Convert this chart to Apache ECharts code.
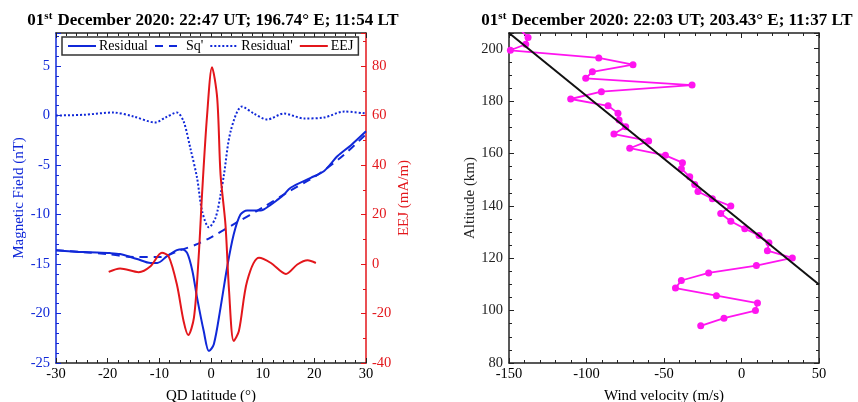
<!DOCTYPE html>
<html>
<head>
<meta charset="utf-8">
<script src="https://cdn.jsdelivr.net/npm/echarts@6/dist/echarts.min.js"></script>
<style>html,body{margin:0;padding:0;background:#fff}#c{width:858px;height:402px}</style>
</head>
<body>
<div id="c"></div>
<script>
// ---- Left panel data ----
const residualLat = [-30,-24.7,-19.5,-17.6,-14.3,-11.7,-10.4,-8.5,-6.6,-5.6,-4.6,-3.6,-2.7,-1.4,-0.4,0.55,1.85,3.1,4.4,5.7,7.0,9.6,11.6,12.9,14.1,15.4,19.3,21.9,24.5,27.1,30];
const residualVal = [-13.6,-13.8,-13.9,-14.0,-14.5,-14.9,-14.9,-14.2,-13.6,-13.5,-13.9,-15.7,-18.4,-21.8,-23.8,-23.1,-19.4,-15.4,-12.0,-10.0,-9.6,-9.6,-9.0,-8.5,-8.0,-7.3,-6.3,-5.6,-4.1,-3.0,-1.6];
const sqLat = [-30,-25,-20,-15,-10,-5.9,-2.7,0,5,10,15,20,25,30];
const sqVal = [-13.6,-13.8,-14.0,-14.3,-14.3,-13.6,-13.0,-12.3,-10.8,-9.3,-7.7,-6.2,-4.3,-1.9];
const residual2Lat = [-30,-24.7,-18.9,-15,-10.8,-8.8,-6.6,-5.3,-4.0,-2.7,-1.7,-0.4,0.9,1.85,2.5,3.8,6.0,8.3,10.9,14.1,18.0,21.9,25.8,30];
const residual2Val = [0,0.07,0.3,-0.1,-0.7,-0.2,0.3,-0.6,-3.3,-6.3,-9.7,-11.3,-10.3,-8.0,-6.0,-1.6,0.9,0.2,-0.4,0.2,-0.3,-0.2,0.4,0.2];
const eejLat = [-19.8,-17.6,-14.0,-11.7,-9.5,-8.2,-6.6,-5.3,-4.4,-3.3,-2.4,-1.7,-0.75,0.2,1.2,1.85,2.8,3.5,4.4,5.4,7.0,9.3,11.6,14.5,16.7,18.7,20.3];
const eejVal = [-3.2,-1.8,-3.3,-0.9,4.5,3.1,-8.3,-23.1,-28.7,-21.7,2.5,29.4,60.3,79.5,67,36.1,15.9,-11,-31.1,-27.1,-6.9,2.5,0.4,-4.0,-0.2,1.5,0.4];
// ---- Right panel data ----
const windVel = [-144,-137.7,-139.2,-149.1,-92.1,-70.0,-96.2,-100.5,-31.9,-90.4,-110.2,-86.1,-79.7,-79.0,-74.7,-82.3,-59.9,-72.1,-49.1,-38.1,-38.8,-33.4,-30.2,-28.1,-18.8,-6.9,-13.4,-6.9,2.1,11.3,17.7,16.7,32.8,9.6,-21.2,-38.8,-42.6,-16.2,10.3,9.0,-11.3,-26.3];
const windAlt = [208,204.3,201.7,199.4,196.5,193.9,191.2,188.7,186.1,183.6,180.8,178.2,175.4,172.8,170.2,167.4,164.8,162.0,159.3,156.5,154.2,151.1,148.2,145.5,142.7,139.9,137.1,134.1,131.3,128.7,125.9,122.9,120.1,117.2,114.4,111.5,108.6,105.7,102.9,100.0,97.1,94.2];
const fitVel = [-150, 50];
const fitAlt = [206, 110];
// ---- Tick / label texts ----
const titleLeft = '01{sup|st} December 2020: 22:47 UT; 196.74° E; 11:54 LT';
const titleRight = '01{sup|st} December 2020: 22:03 UT; 203.43° E; 11:37 LT';
const legendNames = ['Residual', "Sq'", "Residual'", 'EEJ'];

const zip = (a, b) => a.map((v, i) => [v, b[i]]);
const F = 'Liberation Serif';
const BLUE = '#1028d8', RED = '#e3161b', MAG = '#ff14f0', BLK = '#222';

function xAx(gi, pos, min, max, iv, labels, name) {
  return {
    gridIndex: gi, type: 'value', position: pos, min, max, interval: iv,
    name: name || '', nameLocation: 'middle', nameGap: 26,
    nameTextStyle: {fontFamily: F, fontSize: 15, color: '#000'},
    axisLine: {show: true, onZero: false, lineStyle: {color: BLK, width: 1.5}},
    axisTick: {show: true, inside: true, length: 5, lineStyle: {color: BLK}},
    minorTick: {show: true, splitNumber: 5, length: 3, lineStyle: {color: BLK}},
    axisLabel: {show: labels, fontFamily: F, fontSize: 14.5, color: '#000', margin: 4},
    splitLine: {show: false}
  };
}
function yAx(gi, pos, min, max, iv, split, color, labels, name, gap) {
  return {
    gridIndex: gi, type: 'value', position: pos, min, max, interval: iv,
    name: name || '', nameLocation: 'middle', nameGap: gap || 30, nameRotate: 90,
    nameTextStyle: {fontFamily: F, fontSize: 15, color},
    axisLine: {show: true, onZero: false, lineStyle: {color, width: 1.5}},
    axisTick: {show: true, inside: true, length: 5, lineStyle: {color}},
    minorTick: {show: true, splitNumber: split, length: 3, lineStyle: {color}},
    axisLabel: {show: labels, fontFamily: F, fontSize: 14.5, color, margin: 6, showMaxLabel: false},
    splitLine: {show: false}
  };
}

const supStyle = {fontFamily: F, fontSize: 11, fontWeight: 'bold', color: '#000', verticalAlign: 'top', padding: [0, 1, 9, 0]};
const chart = echarts.init(document.getElementById('c'), null, {renderer: 'canvas'});
chart.setOption({
  backgroundColor: '#fff',
  animation: false,
  title: [
    {text: titleLeft, left: 208, top: 6, textAlign: 'center',
     textStyle: {fontFamily: F, fontSize: 17, fontWeight: 'bold', color: '#000', rich: {sup: supStyle}}},
    {text: titleRight, left: 662, top: 6, textAlign: 'center',
     textStyle: {fontFamily: F, fontSize: 17, fontWeight: 'bold', color: '#000', rich: {sup: supStyle}}}
  ],
  legend: {
    data: legendNames, left: 62, top: 37, orient: 'horizontal',
    backgroundColor: '#fff', borderColor: '#333', borderWidth: 1.5, borderRadius: 0,
    padding: [2, 5], itemGap: 6, itemWidth: 28, itemHeight: 10,
    itemStyle: {opacity: 0},
    textStyle: {fontFamily: F, fontSize: 14, color: '#000', padding: [0, 0, 0, -2]}
  },
  grid: [
    {left: 56, top: 33, width: 310, height: 330, outerBoundsMode: 'none', containLabel: false},
    {left: 509, top: 33, width: 310, height: 330, outerBoundsMode: 'none', containLabel: false}
  ],
  xAxis: [
    xAx(0, 'bottom', -30, 30, 10, true, 'QD latitude (°)'),
    xAx(0, 'top', -30, 30, 10, false),
    xAx(1, 'bottom', -150, 50, 50, true, 'Wind velocity (m/s)'),
    xAx(1, 'top', -150, 50, 50, false)
  ],
  yAxis: [
    yAx(0, 'left', -25, 25/3, 5, 5, BLUE, true, 'Magnetic Field (nT)', 28),
    yAx(0, 'right', -40, 280/3, 20, 2, RED, true, 'EEJ (mA/m)', 31),
    yAx(1, 'left', 80, 206, 20, 4, BLK, true, 'Altitude (km)', 31),
    yAx(1, 'right', 80, 206, 20, 4, BLK, false)
  ],
  series: [
    {name: 'Residual', type: 'line', xAxisIndex: 0, yAxisIndex: 0, data: zip(residualLat, residualVal),
     showSymbol: false, symbol: 'none', smooth: 0.3, lineStyle: {color: BLUE, width: 2}, itemStyle: {color: BLUE}, z: 3},
    {name: "Sq'", type: 'line', xAxisIndex: 0, yAxisIndex: 0, data: zip(sqLat, sqVal),
     showSymbol: false, symbol: 'none', smooth: 0.3, lineStyle: {color: BLUE, width: 2, type: [8, 6]}, itemStyle: {color: BLUE}, z: 3},
    {name: "Residual'", type: 'line', xAxisIndex: 0, yAxisIndex: 0, data: zip(residual2Lat, residual2Val),
     showSymbol: false, symbol: 'none', smooth: 0.3, lineStyle: {color: BLUE, width: 2, type: [2, 2]}, itemStyle: {color: BLUE}, z: 3},
    {name: 'EEJ', type: 'line', xAxisIndex: 0, yAxisIndex: 1, data: zip(eejLat, eejVal),
     showSymbol: false, symbol: 'none', smooth: 0.3, lineStyle: {color: RED, width: 2}, itemStyle: {color: RED}, z: 3},
    {name: 'Wind', type: 'line', xAxisIndex: 2, yAxisIndex: 2, data: zip(windVel, windAlt),
     symbol: 'circle', symbolSize: 7, showSymbol: true, lineStyle: {color: MAG, width: 1.8}, itemStyle: {color: MAG}, z: 3},
    {name: 'Fit', type: 'line', xAxisIndex: 2, yAxisIndex: 2, data: zip(fitVel, fitAlt),
     symbol: 'none', showSymbol: false, lineStyle: {color: '#111', width: 2}, z: 4}
  ]
});
</script>
</body>
</html>
